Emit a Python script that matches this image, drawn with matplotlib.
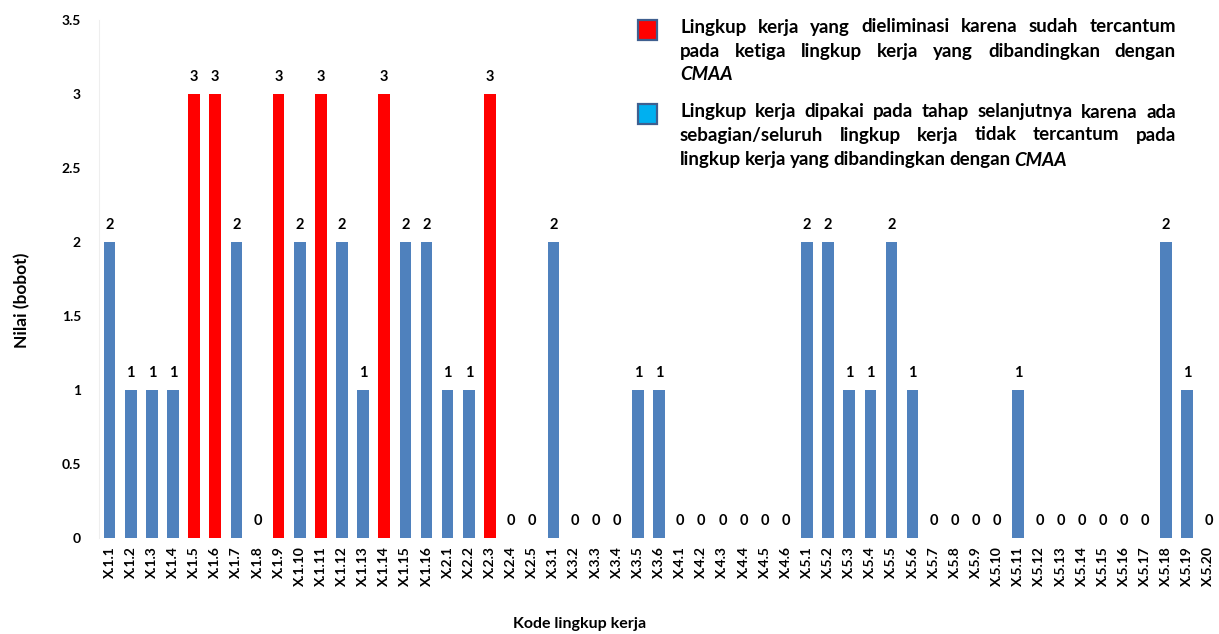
import matplotlib
matplotlib.use("Agg")
import matplotlib.pyplot as plt
from matplotlib.patches import Rectangle

# Work-scope codes and their weights
groups = [("1", 16), ("2", 5), ("3", 6), ("4", 6), ("5", 20)]
categories = [f"X.{g}.{i}" for g, n in groups for i in range(1, n + 1)]

values = [2, 1, 1, 1, 3, 3, 2, 0, 3, 2, 3, 2, 1, 3, 2, 2,   # X.1
          1, 1, 3, 0, 0,                                    # X.2
          2, 0, 0, 0, 1, 1,                                 # X.3
          0, 0, 0, 0, 0, 0,                                 # X.4
          2, 2, 1, 1, 2, 1, 0, 0, 0, 0, 1, 0, 0, 0, 0, 0, 0, 2, 1, 0]  # X.5

eliminated = ["X.1.5", "X.1.6", "X.1.9", "X.1.11", "X.1.14", "X.2.3"]

BLUE = "#4F81BD"
RED = "#FF0000"
LEG_BLUE = "#00B0F0"

colors = [RED if c in eliminated else BLUE for c in categories]

fig = plt.figure(figsize=(12.19, 6.34), dpi=100)
ax = fig.add_axes([99 / 1219, 96 / 634, 1120 / 1219, 518 / 634])

x = list(range(len(categories)))
ax.bar(x, values, width=0.55, color=colors, zorder=2)

for xi, v in zip(x, values):
    ax.annotate(str(v), (xi, v), xytext=(0, 12), textcoords="offset points",
                ha="center", va="center", fontsize=10.5, fontweight="bold",
                family="Lato")

ax.set_xlim(-0.5, len(categories) - 0.5)
ax.set_ylim(0, 3.5)
ax.set_yticks([0, 0.5, 1, 1.5, 2, 2.5, 3, 3.5])
ax.set_yticklabels(["0", "0.5", "1", "1.5", "2", "2.5", "3", "3.5"])
ax.set_xticks(x)
ax.set_xticklabels(categories, rotation=90, ha="center", va="top")
ax.tick_params(axis="both", length=0, labelsize=10)
ax.tick_params(axis="y", pad=13)
ax.tick_params(axis="x", pad=6)
for lab in ax.get_xticklabels() + ax.get_yticklabels():
    lab.set_family("Lato")
    lab.set_fontweight("bold")

for s in ["top", "right", "bottom"]:
    ax.spines[s].set_visible(False)
ax.spines["left"].set_color("#eeeeee")

fig.text(22 / 1219, 1 - 300 / 634, "Nilai (bobot)", rotation=90, ha="center",
         va="center", fontsize=12.5, fontweight="bold", family="Lato")
fig.text(580 / 1219, 1 - 624 / 634, "Kode lingkup kerja", ha="center",
         va="center", fontsize=11.5, fontweight="bold", family="Lato")

# Legend drawn as coloured boxes with justified paragraphs
for y0, col in [(20, RED), (104, LEG_BLUE)]:
    fig.patches.append(Rectangle((638 / 1219, 1 - (y0 + 20) / 634), 19 / 1219, 20 / 634,
                                 transform=fig.transFigure, facecolor=col,
                                 edgecolor="#3F5F8F", linewidth=1.6))

legend_lines = [
    (27, "Lingkup kerja yang dieliminasi karena sudah tercantum", True),
    (51, "pada ketiga lingkup kerja yang dibandingkan dengan", True),
    (74, "*CMAA", False),
    (112, "Lingkup kerja dipakai pada tahap selanjutnya karena ada", True),
    (135, "sebagian/seluruh lingkup kerja tidak tercantum pada", True),
    (160, "lingkup kerja yang dibandingkan dengan *CMAA", False),
]

LEG_FS = 13.5
x_left, x_right = 680, 1176
renderer = fig.canvas.get_renderer()
for ypix, line, justify in legend_lines:
    words = line.split()
    texts = []
    for w in words:
        italic = w.startswith("*")
        t = fig.text(0, 1 - ypix / 634, w.lstrip("*"), ha="left", va="center",
                     fontsize=LEG_FS, fontweight="bold", family="Lato",
                     style="italic" if italic else "normal")
        texts.append(t)
    widths = [t.get_window_extent(renderer).width for t in texts]
    space = renderer.points_to_pixels(LEG_FS) * 0.2
    if justify and len(words) > 1:
        space = (x_right - x_left - sum(widths)) / (len(words) - 1)
    cur = x_left
    for t, w in zip(texts, widths):
        t.set_x(cur / 1219)
        cur += w + space

fig.savefig("out.png", dpi=100)
